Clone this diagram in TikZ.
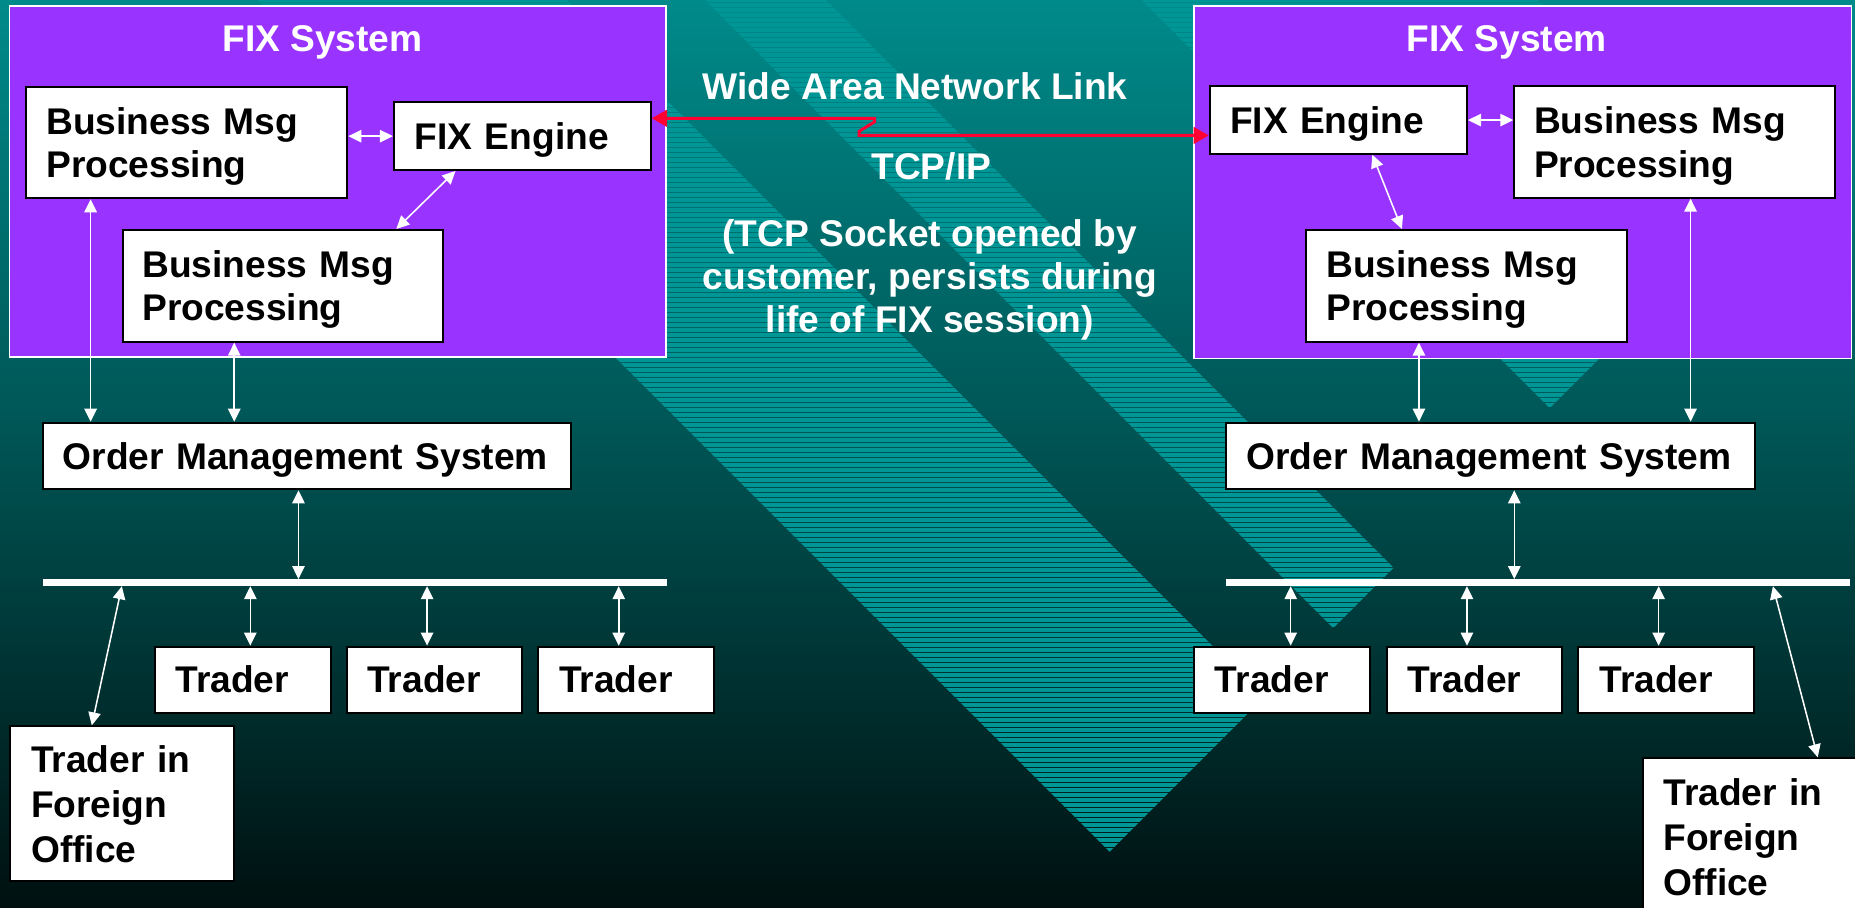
\documentclass[tikz,border=0pt]{standalone}
\usepackage{fontspec}
\setmainfont{Liberation Sans}
\usetikzlibrary{arrows.meta}
\definecolor{fixpurple}{RGB}{153,51,255}
\definecolor{bgtop}{RGB}{0,138,138}
\definecolor{bgmid}{RGB}{0,82,82}
\definecolor{bgbot}{RGB}{0,16,16}
\definecolor{stripeteal}{RGB}{0,150,150}
\definecolor{wanred}{RGB}{255,0,51}
\newcommand\nodp[1]{\raisebox{0pt}[\height][0pt]{#1}}
\begin{document}
\begin{tikzpicture}[x=1pt,y=-1pt,
  every node/.style={font=\fontsize{31.4}{36.6}\selectfont\bfseries},
  sys/.style={draw=white, fill=fixpurple, line width=1.5pt, inner sep=0pt},
  wbox/.style={draw=black, fill=white, line width=1.7pt, inner ysep=0pt, align=left, text=black},
  fobox/.style={wbox, font=\fontsize{31.4}{38}\selectfont\bfseries},
  bus/.style={fill=white, inner sep=0pt, minimum height=5.6pt},
  wtxt/.style={text=white, inner sep=0pt},
  warr/.style={draw=white, line width=1.3pt, {Triangle[length=11pt,width=10.5pt]}-{Triangle[length=11pt,width=10.5pt]}},
  rarr/.style={draw=wanred, line width=2.5pt, line join=miter, {Triangle[length=13pt,width=14pt]}-{Triangle[length=13pt,width=14pt]}},
  stripe/.style={draw=stripeteal, line width=3.3pt}
]
\useasboundingbox (0,0) rectangle (1568,767);
\clip (0,0) rectangle (1568,767);
% background
\shade[top color=bgtop, bottom color=bgbot, middle color=bgmid] (0,0) rectangle (1568,767);
\begin{scope}
  \clip (218,0) -- (479,0) -- (1068.5,589.5) -- (938,720) -- cycle
        (596,0) -- (698,0) -- (1178,480) -- (1127,531) -- cycle
        (965,0) -- (1300,0) -- (1477.5,177.5) -- (1310,345) -- cycle;
  \foreach \k in {0,...,172} \draw[stripe] (0,\k*4.22642) -- (1568,\k*4.22642);
\end{scope}

% FIX system frames
\node[sys, minimum width=555pt, minimum height=297pt] (lsys) at (285.5,153.5) {};
\node[sys, minimum width=556pt, minimum height=298pt] (rsys) at (1287,154) {};
\node[wtxt, anchor=base] (lsyst) at (272.6,43.7) {FIX System};
\node[wtxt, anchor=base] (rsyst) at (1273.7,43.7) {FIX System};

% left side
\node[wbox, inner xsep=17.3pt, text width=237.1pt, minimum height=94.3pt] (lbmp1) at (157.75,120.45) {Business Msg\\\nodp{Processing}};
\node[wbox, inner xsep=17.5pt, text width=182pt, minimum height=57.2pt] (leng) at (441.5,115.1) {\nodp{FIX Engine}};
\node[wbox, inner xsep=16.5pt, text width=237.6pt, minimum height=94.4pt] (lbmp2) at (239.1,241.6) {Business Msg\\\nodp{Processing}};
\node[wbox, inner xsep=17pt, text width=412.4pt, minimum height=56.3pt] (loms) at (259.2,385.45) {\nodp{Order Management System}};
\node[bus, minimum width=527.5pt] (lbus) at (299.75,492.5) {};
\node[wbox, inner xsep=17.5pt, text width=113.7pt, minimum height=55.8pt] (lt1) at (205.15,574.5) {Trader};
\node[wbox, inner xsep=17.5pt, text width=113pt, minimum height=55.8pt] (lt2) at (367,574.5) {Trader};
\node[wbox, inner xsep=17.5pt, text width=113.3pt, minimum height=55.8pt] (lt3) at (529.3,574.5) {Trader};
\node[fobox, inner xsep=17.8pt, text width=153.9pt, minimum height=131pt] (lfo) at (103.25,679.5) {Trader in\\Foreign\\Office};

% right side
\node[wbox, inner xsep=17pt, text width=183.3pt, minimum height=57pt] (reng) at (1131.35,101.5) {\nodp{FIX Engine}};
\node[wbox, inner xsep=16.7pt, text width=237.6pt, minimum height=94pt] (rbmp1) at (1415.5,120) {Business Msg\\\nodp{Processing}};
\node[wbox, inner xsep=17.2pt, text width=236.6pt, minimum height=94.4pt] (rbmp2) at (1239.5,241.6) {Business Msg\\\nodp{Processing}};
\node[wbox, inner xsep=17pt, text width=412.6pt, minimum height=56.3pt] (roms) at (1260,385.45) {\nodp{Order Management System}};
\node[bus, minimum width=527.3pt] (rbus) at (1300.35,492.5) {};
\node[wbox, inner xsep=18pt, text width=113pt, minimum height=55.8pt] (rt1) at (1083.5,574.5) {Trader};
\node[wbox, inner xsep=18pt, text width=112pt, minimum height=55.8pt] (rt2) at (1246,574.5) {Trader};
\node[wbox, inner xsep=18pt, text width=113pt, minimum height=55.8pt] (rt3) at (1408.5,574.5) {Trader};
\node[fobox, inner xsep=17pt, text width=154pt, minimum height=134pt] (rfo) at (1483,708) {Trader in\\Foreign\\Office};

% WAN texts
\node[wtxt, anchor=base] (wan) at (773.4,84) {Wide Area Network Link};
\node[wtxt, anchor=base] (tcp) at (787.2,151.6) {TCP/IP};
\node[wtxt, align=center] (sock) at (786,236.5) {(TCP Socket opened by\\customer, persists during\\life of FIX session)};

% helper x positions
\coordinate (xl1) at (76.6,0);
\coordinate (xl2) at (198,0);
\coordinate (xl3) at (252.3,0);
\coordinate (xl4) at (211.6,0);
\coordinate (xl5) at (361,0);
\coordinate (xl6) at (523,0);
\coordinate (xr1) at (1199.4,0);
\coordinate (xr2) at (1429,0);
\coordinate (xr3) at (1280,0);
\coordinate (xr4) at (1091,0);
\coordinate (xr5) at (1240,0);
\coordinate (xr6) at (1402,0);

% left connectors
\draw[warr] (leng.west -| lbmp1.east) -- (leng.west);
\draw[warr] ([xshift=-56.5pt]leng.south) -- ([xshift=95.9pt]lbmp2.north);
\draw[warr] (lbmp1.south -| xl1) -- (loms.north -| xl1);
\draw[warr] (lbmp2.south -| xl2) -- (loms.north -| xl2);
\draw[warr] (loms.south -| xl3) -- (lbus.north -| xl3);
\draw[warr] (lbus.south -| xl4) -- (lt1.north -| xl4);
\draw[warr] (lbus.south -| xl5) -- (lt2.north -| xl5);
\draw[warr] (lbus.south -| xl6) -- (lt3.north -| xl6);
\draw[warr] ([xshift=-196.75pt]lbus.south) -- ([xshift=-25.65pt]lfo.north);

% right connectors
\draw[warr] (reng.east) -- (reng.east -| rbmp1.west);
\draw[warr] ([xshift=28.65pt]reng.south) -- ([xshift=-54.5pt]rbmp2.north);
\draw[warr] (rbmp2.south -| xr1) -- (roms.north -| xr1);
\draw[warr] (rbmp1.south -| xr2) -- (roms.north -| xr2);
\draw[warr] (roms.south -| xr3) -- (rbus.north -| xr3);
\draw[warr] (rbus.south -| xr4) -- (rt1.north -| xr4);
\draw[warr] (rbus.south -| xr5) -- (rt2.north -| xr5);
\draw[warr] (rbus.south -| xr6) -- (rt3.north -| xr6);
\draw[warr] ([xshift=198.25pt]rbus.south) -- ([xshift=53.5pt]rfo.north);

% wide area network link
\draw[rarr] ([yshift=15.1pt]leng.east) -- ++(188.4,0) -- ++(0,3) -- ++(-13,8) -- ++(0,3.5) -- ([yshift=-13pt]reng.west);
\end{tikzpicture}
\end{document}
